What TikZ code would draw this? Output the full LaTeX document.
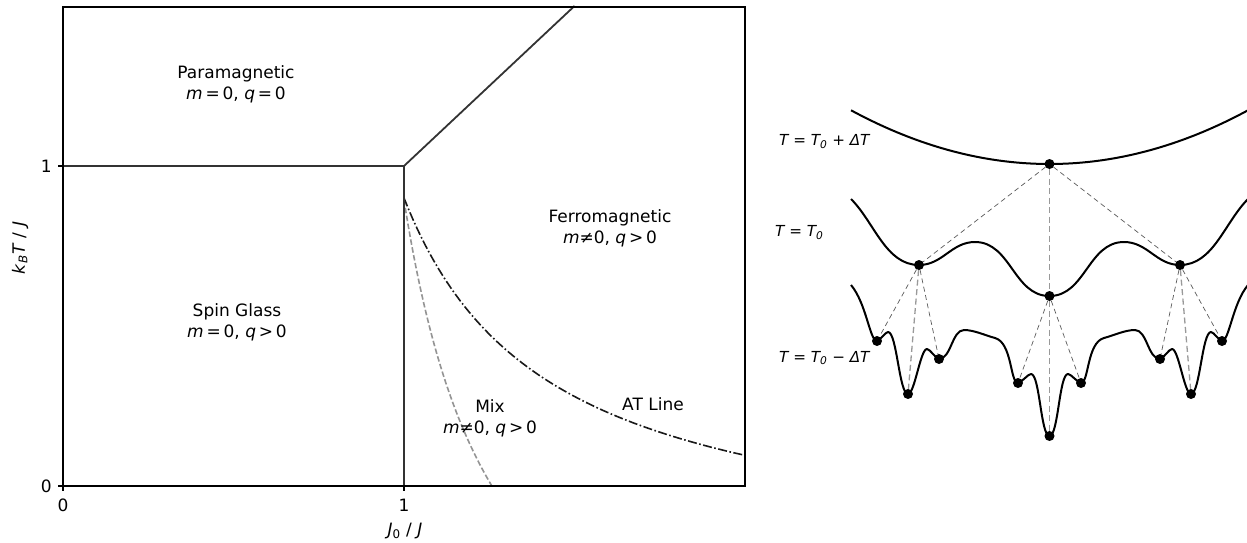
\documentclass[tikz,border=0pt]{standalone}
\usepackage{fontspec}
\setmainfont{DejaVu Sans}
\begin{document}
\begin{tikzpicture}[x=1pt,y=1pt,
  lbl/.style={font=\fontsize{17}{21}\selectfont, align=center, inner sep=0pt},
  phase/.style={draw=black!80, line width=1.8pt},
  atline/.style={draw=black!90, line width=1.6pt, dash pattern=on 9pt off 2.5pt on 1.6pt off 2.5pt},
  mixline/.style={draw=black!42, line width=1.6pt, dash pattern=on 5.5pt off 2.5pt},
  frame/.style={draw=black, line width=1.3pt},
  tickmark/.style={draw=black, line width=1.1pt},
  curve/.style={draw=black, line width=2pt, line join=round},
  dot/.style={circle, fill=black, inner sep=0pt, minimum size=10pt},
  dline/.style={draw=black!65, line width=0.7pt, dash pattern=on 5pt off 3.5pt},
  vline/.style={draw=black!40, line width=1.3pt, dash pattern=on 6pt off 3.5pt},
  tlbl/.style={font=\fontsize{15.2}{17}\selectfont\itshape, anchor=west, inner sep=0pt}
]
\useasboundingbox (0,0) rectangle (1247,-543);

% ---------- left: phase diagram ----------
\begin{scope}[shift={(63,-486)}, x=341pt, y=320pt]
  \coordinate (o1) at (0,1);
  \coordinate (c) at (1,1);
  \coordinate (tp) at (1.5,1.5);
  \coordinate (b) at (1,0);
  \draw[mixline] plot[domain=1:1.2575, samples=60] (\x, {0.497/(\x-0.729)-0.94});
  \draw[atline] plot[domain=1:2, samples=80] (\x, {0.4817/(\x-0.5786)-0.243});
  \draw[phase] (o1) -- (c) -- (tp);
  \draw[phase] (c) -- (b);
  \draw[frame] (0,0) rectangle (2,1.497);
  \draw[tickmark] (0,0) -- ++(0,-5pt);
  \draw[tickmark] (1,0) -- ++(0,-5pt);
  \draw[tickmark] (0,0) -- ++(-5pt,0);
  \draw[tickmark] (0,1) -- ++(-5pt,0);
\end{scope}

\node[lbl] (x0) at (63,-505) {0};
\node[lbl] (x1) at (404,-505) {1};
\node[lbl, anchor=east] (y0) at (52,-486) {0};
\node[lbl, anchor=east] (y1) at (52,-166) {1};
\node[lbl] (xlab) at (405,-531) {\textit{J}\textsubscript{0} / \textit{J}};
\node[lbl, rotate=90] (ylab) at (20,-248) {\textit{k}\textsubscript{\textit{B}}\textit{T} / \textit{J}};

\node[lbl] (para) at (236,-84.5) {Paramagnetic\\\textit{m}\thinspace=\thinspace0,\ \textit{q}\thinspace=\thinspace0};
\node[lbl] (sg) at (237,-322.5) {Spin Glass\\\textit{m}\thinspace=\thinspace0,\ \textit{q}\thinspace>\thinspace0};
\node[lbl] (ferro) at (610,-228) {Ferromagnetic\\\textit{m}≠0,\ \textit{q}\thinspace>\thinspace0};
\node[lbl] (mix) at (490,-418.5) {Mix\\\textit{m}≠0,\ \textit{q}\thinspace>\thinspace0};
\node[lbl] (atl) at (653,-404) {AT Line};

% ---------- right: energy landscapes ----------
\draw[curve] plot[domain=851:1248, samples=80] (\x, {-164 + 54*((\x-1049.5)/199)*((\x-1049.5)/199)});

\draw[curve] (851,-199) to[out=-45,in=180,looseness=0.9] (919,-265)
  to[out=0,in=180] (975,-242) to[out=0,in=180] (1049.5,-296)
  to[out=0,in=180] (1124,-242) to[out=0,in=180] (1180,-265)
  to[out=0,in=225,looseness=0.9] (1248,-199);

\draw[curve] (851,-285) to[out=-50,in=180,out looseness=1.0,in looseness=0.3] (877,-341)
  to[out=0,in=180,looseness=0.5] (888,-332)
  to[out=0,in=180,looseness=0.35] (908,-394)
  to[out=0,in=180,looseness=0.35] (927,-349)
  to[out=0,in=180,looseness=0.5] (939,-359)
  to[out=0,in=180,looseness=0.8] (964,-330)
  to[out=0,in=165,looseness=0.8] (995,-338)
  to[out=-15,in=180,out looseness=0.9,in looseness=0.4] (1018,-383)
  to[out=0,in=180,looseness=0.5] (1031,-374)
  to[out=0,in=180,looseness=0.35] (1049.5,-436)
  to[out=0,in=180,looseness=0.35] (1068,-374)
  to[out=0,in=180,looseness=0.5] (1081,-383)
  to[out=0,in=195,out looseness=0.4,in looseness=0.9] (1104,-338)
  to[out=15,in=180,looseness=0.8] (1135,-330)
  to[out=0,in=180,looseness=0.8] (1160,-359)
  to[out=0,in=180,looseness=0.5] (1172,-349)
  to[out=0,in=180,looseness=0.35] (1191,-394)
  to[out=0,in=180,looseness=0.35] (1211,-332)
  to[out=0,in=180,looseness=0.5] (1222,-341)
  to[out=0,in=230,out looseness=0.3,in looseness=1.0] (1248,-285);

\node[dot] (t0) at (1049.5,-164) {};
\node[dot] (m1) at (919,-265) {};
\node[dot] (m2) at (1049.5,-296) {};
\node[dot] (m3) at (1180,-265) {};
\node[dot] (b1) at (877,-341) {};
\node[dot] (b2) at (908,-394) {};
\node[dot] (b3) at (939,-359) {};
\node[dot] (b4) at (1018,-383) {};
\node[dot] (b5) at (1049.5,-436) {};
\node[dot] (b6) at (1081,-383) {};
\node[dot] (b7) at (1160,-359) {};
\node[dot] (b8) at (1191,-394) {};
\node[dot] (b9) at (1222,-341) {};

\draw[dline] (t0) -- (m1);
\draw[dline] (t0) -- (m3);
\draw[vline] (t0) -- (m2);
\draw[dline] (m1) -- (b1);
\draw[vline] (m1) -- (b2);
\draw[dline] (m1) -- (b3);
\draw[dline] (m2) -- (b4);
\draw[vline] (m2) -- (b5);
\draw[dline] (m2) -- (b6);
\draw[dline] (m3) -- (b7);
\draw[vline] (m3) -- (b8);
\draw[dline] (m3) -- (b9);

\node[tlbl] (lt1) at (779,-142) {T = T\textsubscript{0} + ΔT};
\node[tlbl] (lt2) at (775,-233) {T = T\textsubscript{0}};
\node[tlbl] (lt3) at (779,-358) {T = T\textsubscript{0} − ΔT};
\end{tikzpicture}
\end{document}
